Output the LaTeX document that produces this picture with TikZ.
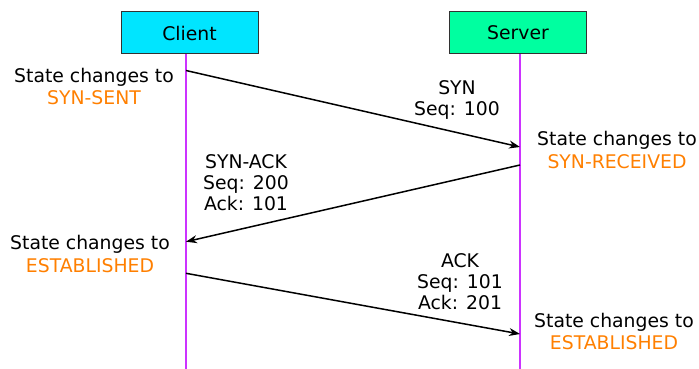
\documentclass[tikz,border=0pt]{standalone}
\usepackage{fontspec}
\setmainfont{DejaVu Sans}
\usetikzlibrary{arrows.meta}
\definecolor{clientfill}{RGB}{0,229,255}
\definecolor{serverfill}{RGB}{0,255,160}
\definecolor{lifecol}{RGB}{204,51,255}
\definecolor{statecol}{RGB}{255,127,0}
\definecolor{boxborder}{RGB}{50,50,50}
\tikzset{
  host/.style={draw=boxborder, line width=1pt, minimum width=137pt, minimum height=42pt, inner sep=0pt, font=\fontsize{18.8}{22.5}\selectfont},
  life/.style={draw=lifecol, line width=1.8pt},
  msg/.style={-{Stealth[length=11pt,width=8pt]}, line width=1.5pt},
  statetext/.style={align=center, inner sep=0pt, font=\fontsize{18.8}{22.5}\selectfont},
  msgtext/.style={align=center, inner sep=0pt, font=\fontsize{18.8}{21}\selectfont}
}
\newcommand\statenote[4]{
  \node[statetext] (#1) at (#2,#3) {State changes to\\\textcolor{statecol}{#4}};
}

\begin{document}
\begin{tikzpicture}[x=1pt,y=-1pt]
\useasboundingbox (0,0) rectangle (699,369);

\node[host, fill=clientfill] (client) at (189.5,33) {Client};
\node[host, fill=serverfill] (server) at (518,33) {Server};

% lifelines
\coordinate (cltop) at (186,54);
\coordinate (clbot) at (186,369);
\coordinate (svtop) at (520,54);
\coordinate (svbot) at (520,369);
\draw[life] (cltop) -- (clbot);
\draw[life] (svtop) -- (svbot);

% message ends
\coordinate (syn0) at (186,70.5);
\coordinate (syn1) at (520,147);
\coordinate (synack0) at (520,165);
\coordinate (synack1) at (186,241.7);
\coordinate (ack0) at (186,273.3);
\coordinate (ack1) at (520,334);

\draw[msg] (syn0) -- (syn1);
\draw[msg] (synack0) -- (synack1);
\draw[msg] (ack0) -- (ack1);

\node[msgtext] (synlbl) at (457,99.6) {SYN\\Seq: 100};
\node[msgtext] (synacklbl) at (246,182.3) {SYN-ACK\\Seq: 200\\Ack: 101};
\node[msgtext] (acklbl) at (460,281.8) {ACK\\Seq: 101\\Ack: 201};

\statenote{clstate1}{94}{86.4}{SYN-SENT}
\statenote{svstate1}{617}{149.8}{SYN-RECEIVED}
\statenote{clstate2}{90}{254}{ESTABLISHED}
\statenote{svstate2}{614}{331.4}{ESTABLISHED}

\end{tikzpicture}
\end{document}
